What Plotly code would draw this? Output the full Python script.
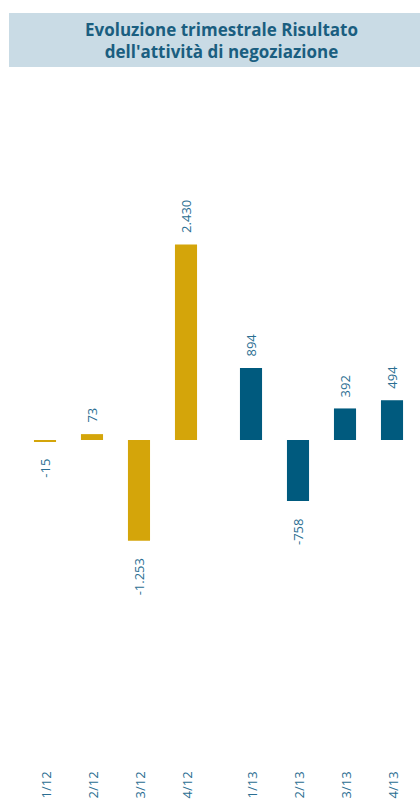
import plotly.graph_objects as go

categories = ["1/12", "2/12", "3/12", "4/12", "1/13", "2/13", "3/13", "4/13"]
values = [-15, 73, -1253, 2430, 894, -758, 392, 494]
years = ["2012"] * 4 + ["2013"] * 4
title_lines = ["Evoluzione trimestrale Risultato", "dell'attività di negoziazione"]

GOLD = "#D4A50A"
BLUE = "#005A7E"
LABEL = "#2B6E92"
TITLE_BG = "#C9DBE5"
TITLE_FG = "#1A5E80"

W, H = 420, 806
gap_extra = 0.383
xpos = [i + (gap_extra if years[i] == "2013" else 0) for i in range(len(categories))]

def fmt(v):
    return f"{v:,}".replace(",", ".")

fig = go.Figure()
fig.add_trace(go.Bar(
    x=xpos, y=values, width=0.47,
    marker=dict(color=[GOLD if y == "2012" else BLUE for y in years], line=dict(width=0)),
    hoverinfo="skip", showlegend=False,
))

annotations = []
for x, v in zip(xpos, values):
    annotations.append(dict(
        x=x, y=v, xref="x", yref="y", text=fmt(v), showarrow=False,
        textangle=-90, font=dict(family="Open Sans", size=13, color=LABEL),
        xanchor="center", yanchor="bottom" if v >= 0 else "top",
        yshift=9 if v >= 0 else -16,
    ))
for x, c in zip(xpos, categories):
    annotations.append(dict(
        x=x, y=(H - 801) / H, xref="x", yref="paper", text=c, showarrow=False,
        textangle=-90, font=dict(family="Open Sans", size=13, color=LABEL),
        xanchor="center", yanchor="bottom",
    ))
annotations.append(dict(
    x=221 / W, y=1 - 40 / H, xref="paper", yref="paper",
    text="<b>" + "<br>".join(title_lines) + "</b>", showarrow=False,
    font=dict(family="Open Sans", size=17, color=TITLE_FG),
    xanchor="center", yanchor="middle", align="center",
))

fig.update_layout(
    width=W, height=H,
    margin=dict(l=0, r=0, t=0, b=0),
    paper_bgcolor="white", plot_bgcolor="white",
    xaxis=dict(range=[-45 / 47, (W - 45) / 47], visible=False, fixedrange=True),
    yaxis=dict(range=[-(H - 440) / 0.0805, 440 / 0.0805], visible=False, fixedrange=True),
    shapes=[dict(type="rect", xref="paper", yref="paper",
                 x0=9 / W, x1=1, y0=1 - 67 / H, y1=1 - 13 / H,
                 fillcolor=TITLE_BG, line=dict(width=0), layer="below")],
    annotations=annotations,
)

fig.write_html("out.html")
